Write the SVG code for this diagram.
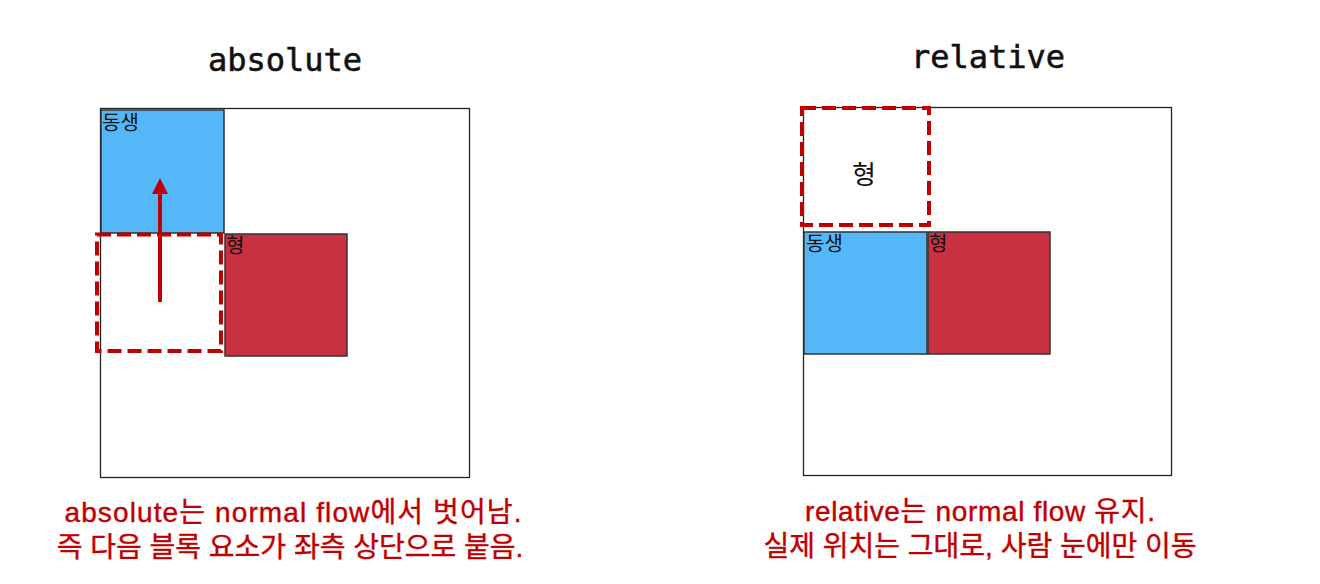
<svg xmlns="http://www.w3.org/2000/svg" width="1320" height="584" viewBox="0 0 1320 584">
<defs>
<style>
.title{font-family:"DejaVu Sans Mono","Liberation Mono",monospace;font-size:32px;fill:#111;text-anchor:middle;stroke:#111;stroke-width:0.6}
.box{fill:#fff;stroke:#222;stroke-width:1.3}
.blue{fill:#54b8f8;stroke:#333;stroke-width:1.5}
.red{fill:#c93042;stroke:#333;stroke-width:1.5}
.dash{fill:none;stroke:#c00000;stroke-width:4;stroke-dasharray:14 6}
.lbl{font-family:"Noto Sans CJK KR","Noto Sans",sans-serif;font-size:20px;fill:#111}
.cap{font-family:"Liberation Sans","Noto Sans CJK KR",sans-serif;font-size:28px;font-weight:400;fill:#c00000;text-anchor:middle;stroke:#c00000;stroke-width:0.4}
</style>
<marker id="ah" markerWidth="4" markerHeight="4" refX="2" refY="2" orient="auto" markerUnits="strokeWidth">
<path d="M0,0 L4,2 L0,4 Z" fill="#c00000"/>
</marker>
</defs>
<rect width="1320" height="584" fill="#fff"/>
<g id="title-absolute"><text class="title" x="285" y="71">absolute</text></g>
<g id="title-relative"><text class="title" x="988" y="68">relative</text></g>
<g id="abs-container"><rect class="box" x="100.5" y="108.5" width="369" height="369"/></g>
<g id="abs-dongsaeng"><rect class="blue" x="101" y="110" width="123" height="123"/><text class="lbl" x="102" y="130">동생</text></g>
<g id="abs-hyung"><rect class="red" x="225" y="234" width="122" height="122"/><text class="lbl" x="226" y="253">형</text></g>
<g id="abs-ghost"><rect class="dash" x="97" y="234.5" width="124" height="116.5"/></g>
<g id="connectors"><line x1="160" y1="302" x2="160" y2="186" stroke="#c00000" stroke-width="4" marker-end="url(#ah)"/></g>
<g id="rel-container"><rect class="box" x="803.5" y="107.5" width="368" height="368"/></g>
<g id="rel-dongsaeng"><rect class="blue" x="804" y="232" width="123" height="122"/><text class="lbl" x="806" y="251">동생</text></g>
<g id="rel-hyung"><rect class="red" x="928" y="232" width="122" height="122"/><text class="lbl" x="929" y="251">형</text></g>
<g id="rel-ghost"><rect class="dash" x="802" y="108" width="127" height="117"/><text x="864" y="184" font-family="Noto Sans CJK KR,Noto Sans,sans-serif" font-size="26" fill="#111" text-anchor="middle">형</text></g>
<g id="caption-left"><text class="cap" x="293" y="522" textLength="457" lengthAdjust="spacing">absolute는 normal flow에서 벗어남.</text><text class="cap" x="290" y="557">즉 다음 블록 요소가 좌측 상단으로 붙음.</text></g>
<g id="caption-right"><text class="cap" x="980" y="521" textLength="350" lengthAdjust="spacing">relative는 normal flow 유지.</text><text class="cap" x="980" y="556">실제 위치는 그대로, 사람 눈에만 이동</text></g>
</svg>
